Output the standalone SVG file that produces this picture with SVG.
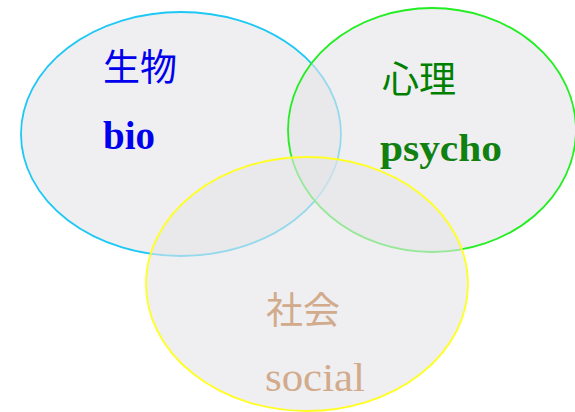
<svg xmlns="http://www.w3.org/2000/svg" width="575" height="412" viewBox="0 0 575 412">
<style>
.c{fill:#e4e4e8;fill-opacity:0.6;stroke-width:1.8}
.en{font-family:"Liberation Serif",serif}
.cj{font-family:"Noto Sans CJK JP","Noto Sans CJK SC",sans-serif;font-size:37px}
</style>
<rect width="575" height="412" fill="#ffffff"/>
<g id="bio">
<ellipse class="c" cx="181" cy="134" rx="160" ry="122" stroke="#1ec8f5"/>
</g>
<g id="psycho">
<ellipse class="c" cx="432" cy="130" rx="144" ry="122" stroke="#22ee22"/>
</g>
<g id="social">
<ellipse class="c" cx="307" cy="284" rx="161" ry="127" stroke="#ffff22"/>
</g>
<g id="labels">
<text class="cj" x="103" y="81" fill="#0000ee">生物</text>
<text class="en" x="103" y="149" fill="#0000ee" font-weight="bold" font-size="41" textLength="52" lengthAdjust="spacingAndGlyphs">bio</text>
<text class="cj" x="382" y="93" fill="#008000">心理</text>
<text class="en" x="380" y="161" fill="#108010" font-weight="bold" font-size="37" textLength="122" lengthAdjust="spacingAndGlyphs">psycho</text>
<text class="cj" x="266" y="324" fill="#d2aa8c">社会</text>
<text class="en" x="265" y="391" fill="#d2aa8c" font-size="41" textLength="100" lengthAdjust="spacingAndGlyphs">social</text>
</g>
</svg>
